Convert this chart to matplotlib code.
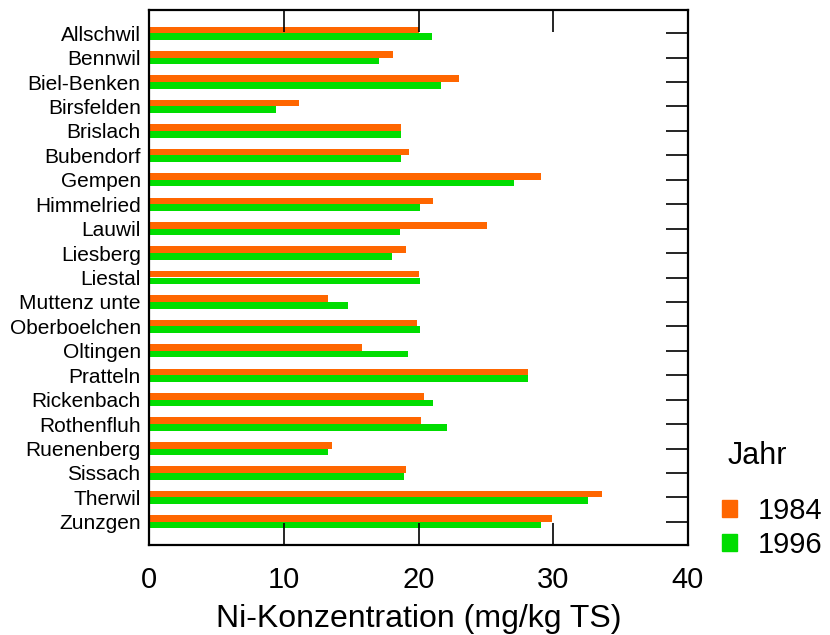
import numpy as np
import matplotlib.pyplot as plt
from matplotlib.patches import Patch

plt.rcParams['font.family'] = ['Liberation Sans', 'DejaVu Sans']

orte = ['Allschwil', 'Bennwil', 'Biel-Benken', 'Birsfelden', 'Brislach', 'Bubendorf',
        'Gempen', 'Himmelried', 'Lauwil', 'Liesberg', 'Liestal', 'Muttenz unte',
        'Oberboelchen', 'Oltingen', 'Pratteln', 'Rickenbach', 'Rothenfluh',
        'Ruenenberg', 'Sissach', 'Therwil', 'Zunzgen']
ni_1984 = [20.0, 18.1, 23.0, 11.1, 18.7, 19.3, 29.1, 21.1, 25.1, 19.1, 20.0, 13.3,
           19.9, 15.8, 28.1, 20.4, 20.2, 13.6, 19.1, 33.6, 29.9]
ni_1996 = [21.0, 17.1, 21.7, 9.4, 18.7, 18.7, 27.1, 20.1, 18.6, 18.0, 20.1, 14.8,
           20.1, 19.2, 28.1, 21.1, 22.1, 13.3, 18.9, 32.6, 29.1]
jahre = ['1984', '1996']
farben = ['#FF6600', '#00DD00']

fig = plt.figure(figsize=(8.3, 6.35), dpi=100)
ax = fig.add_axes([149 / 830, 1 - 545 / 635, (688 - 149) / 830, 535 / 635])

y = np.arange(len(orte))
h = 0.27
ax.barh(y - h / 2, ni_1984, height=h, color=farben[0])
ax.barh(y + h / 2, ni_1996, height=h, color=farben[1])

ax.set_xlim(0, 40)
ax.set_ylim(len(orte) - 1 + 0.95, -0.95)

ax.set_yticks(y)
ax.set_yticklabels(orte, fontsize=15)
ax.set_xticks([0, 10, 20, 30, 40])
ax.tick_params(axis='x', direction='in', length=16, width=1.2, top=True,
               labelsize=21, pad=15)
ax.tick_params(axis='y', direction='in', length=16, width=1.2, left=False,
               right=True, pad=6)
for s in ax.spines.values():
    s.set_linewidth(1.6)

ax.set_xlabel('Ni-Konzentration (mg/kg TS)', fontsize=23, labelpad=7)

# legend: title as separate text, entries below
fig.text(728 / 830, 1 - 464 / 635, 'Jahr', fontsize=22, ha='left', va='baseline')
handles = [Patch(color=c) for c in farben]
fig.legend(handles, jahre, loc='upper left',
           bbox_to_anchor=(722 / 830, 1 - 497 / 635), frameon=False,
           fontsize=21, handlelength=0.52, handleheight=0.52,
           handletextpad=0.72, labelspacing=0.2, borderpad=0,
           borderaxespad=0)

fig.savefig('out.png', dpi=100)
